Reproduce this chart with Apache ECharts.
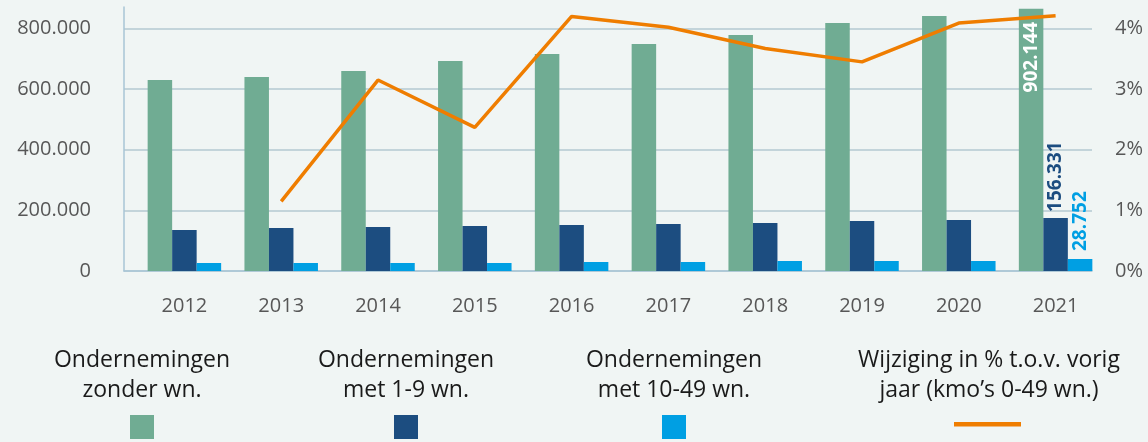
<!DOCTYPE html>
<html>
<head>
<meta charset="utf-8">
<script src="https://cdn.jsdelivr.net/npm/echarts@6/dist/echarts.min.js"></script>
<style>
html,body{margin:0;padding:0;background:#f0f5f4;}
#chart{width:1148px;height:442px;}
</style>
</head>
<body>
<div id="chart"></div>
<script>
// ---- data ----
var years = ['2012','2013','2014','2015','2016','2017','2018','2019','2020','2021'];
var zonderWn = [630000, 640000, 660000, 693000, 716000, 749000, 779000, 818000, 841000, 865000];
var met1tot9 = [135000, 142000, 145000, 148500, 152000, 155000, 158400, 165000, 168300, 175000];
var met10tot49 = [26400, 26400, 26400, 26400, 29700, 29700, 33000, 33000, 33000, 39600];
var wijziging = [null, 1.15, 3.15, 2.37, 4.20, 4.02, 3.67, 3.45, 4.09, 4.21];
var labels2021 = ['902.144', '156.331', '28.752'];
var seriesNames = ['Ondernemingen zonder wn.', 'Ondernemingen met 1-9 wn.', 'Ondernemingen met 10-49 wn.', 'Wijziging in % t.o.v. vorig jaar (kmo\u2019s 0-49 wn.)'];
var legendLines = [
  'Ondernemingen\nzonder wn.',
  'Ondernemingen\nmet 1-9 wn.',
  'Ondernemingen\nmet 10-49 wn.',
  'Wijziging in % t.o.v. vorig\njaar (kmo\u2019s 0-49 wn.)'
];

// ---- styling ----
var colors = ['#70ac93', '#1c4d80', '#009fe3', '#ef7d00'];
var FONT = '"Open Sans", "DejaVu Sans", sans-serif';
var LEFT_MAX = 871000, RIGHT_MAX = 4.355;
var gridColor = '#b4c8d2';

function thousands(v){ return String(v).replace(/\B(?=(\d{3})+(?!\d))/g, '.'); }

function withLastLabel(arr, idx, labelCfg){
  return arr.map(function(v, i){
    if (i === arr.length - 1) {
      return { value: v, label: Object.assign({ show: true, formatter: function(){ return labels2021[idx]; } }, labelCfg) };
    }
    return v;
  });
}

var chart = echarts.init(document.getElementById('chart'));
var option = {
  backgroundColor: '#f0f5f4',
  animation: false,
  grid: [
    { left: 124, right: 56, top: 7, bottom: 171 },   // axes / gridlines
    { left: 136, right: 44, top: 7, bottom: 171 }    // plotted marks
  ],
  xAxis: [
    { gridIndex: 0, type: 'category', data: years,
      axisLine: { show: true, lineStyle: { color: '#a9c5d6', width: 1.5 } },
      axisTick: { show: false }, axisLabel: { show: false }, splitLine: { show: false } },
    { gridIndex: 1, type: 'category', data: years,
      axisLine: { show: false }, axisTick: { show: false },
      axisLabel: { color: '#575757', fontSize: 20, fontFamily: FONT, margin: 25 } }
  ],
  yAxis: [
    { gridIndex: 0, type: 'value', min: 0, max: LEFT_MAX, interval: 200000,
      axisLine: { show: true, lineStyle: { color: '#a9c5d6', width: 1.5 } },
      axisTick: { show: false },
      splitLine: { show: true, showMaxLine: false, lineStyle: { color: gridColor, width: 1.5 } },
      axisLabel: { color: '#575757', fontSize: 20, fontFamily: FONT, margin: 33, showMaxLabel: false,
        formatter: function(v){ return thousands(v); } } },
    { gridIndex: 0, type: 'value', min: 0, max: RIGHT_MAX, interval: 1, position: 'right',
      axisLine: { show: false }, axisTick: { show: false }, splitLine: { show: false },
      axisLabel: { color: '#575757', fontSize: 20, fontFamily: FONT, margin: 23, showMaxLabel: false,
        formatter: '{value}%' } },
    { gridIndex: 1, type: 'value', min: 0, max: LEFT_MAX, show: false, splitLine: { show: false } },
    { gridIndex: 1, type: 'value', min: 0, max: RIGHT_MAX, show: false, splitLine: { show: false } }
  ],
  legend: [0,1,2,3].map(function(i){
    var lefts = [130, 394, 662, 954];
    var isLine = i === 3;
    return {
      left: lefts[i], top: isLine ? 422 : 415, padding: 0,
      orient: 'horizontal', selectedMode: false,
      itemWidth: isLine ? 67 : 24, itemHeight: isLine ? 4.5 : 24,
      data: [{ name: seriesNames[i], icon: 'rect' }],
      formatter: function(){ return ''; },
      textStyle: { fontSize: 1 }
    };
  }),
  graphic: legendLines.map(function(t, i){
    var centers = [142, 406, 674, 989];
    return {
      type: 'text', x: centers[i], y: 345, silent: true,
      style: { text: t, align: 'center', verticalAlign: 'top', fill: '#1a1a1a',
        font: '23px ' + FONT, lineHeight: 30 }
    };
  }),
  series: [
    { name: seriesNames[0], type: 'bar', xAxisIndex: 1, yAxisIndex: 2,
      barWidth: 24.5, barGap: 0, itemStyle: { color: colors[0] },
      data: withLastLabel(zonderWn, 0, { position: 'insideTop', rotate: 90, align: 'right', verticalAlign: 'middle',
        distance: 13, color: '#ffffff', fontSize: 19, fontWeight: 'bold', fontFamily: FONT }) },
    { name: seriesNames[1], type: 'bar', xAxisIndex: 1, yAxisIndex: 2,
      barWidth: 24.5, barGap: 0, itemStyle: { color: colors[1] },
      data: withLastLabel(met1tot9, 1, { position: 'top', rotate: 90, align: 'left', verticalAlign: 'middle',
        distance: 6, color: colors[1], fontSize: 19, fontWeight: 'bold', fontFamily: FONT }) },
    { name: seriesNames[2], type: 'bar', xAxisIndex: 1, yAxisIndex: 2,
      barWidth: 24.5, barGap: 0, itemStyle: { color: colors[2] },
      data: withLastLabel(met10tot49, 2, { position: 'top', rotate: 90, align: 'left', verticalAlign: 'middle',
        distance: 8, color: colors[2], fontSize: 19, fontWeight: 'bold', fontFamily: FONT }) },
    { name: seriesNames[3], type: 'line', xAxisIndex: 1, yAxisIndex: 3, z: 5,
      symbol: 'none', connectNulls: false, itemStyle: { color: colors[3] },
      lineStyle: { color: colors[3], width: 3.5 },
      data: wijziging }
  ]
};
chart.setOption(option);
</script>
</body>
</html>
